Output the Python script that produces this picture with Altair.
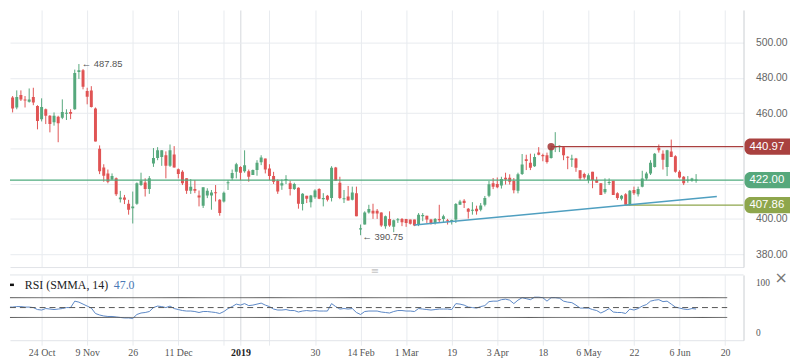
import altair as alt
import pandas as pd

# ---------------- data ----------------
opens = [473.5, 462.6, 464.7, 468.8, 463.2, 470.3, 467.8, 466.5, 469.1, 464.1,
         456.6, 462.2, 458.5, 454.8, 457.9, 457.4, 459.8, 460.7, 462.2, 483.4,
         484.3, 472.5, 472.9, 462.6, 439.8, 429.1, 425.8, 422.4, 423.0, 411.2,
         412.1, 408.6, 406.0, 408.6, 419.2, 420.7, 417.0, 431.4, 434.6, 435.1,
         436.1, 430.1, 436.6, 428.2, 426.7, 423.0, 416.0, 417.0, 413.3, 407.5,
         413.3, 413.3, 415.0, 410.8, 409.9, 420.4, 423.0, 426.7, 429.5, 427.1,
         427.1, 424.9, 427.7, 432.1, 434.2, 428.6, 424.3, 421.7, 418.9, 422.2,
         420.2, 417.0, 417.7, 408.4, 413.1, 409.5, 412.3, 417.0, 411.2, 413.1,
         411.8, 429.2, 420.5, 411.2, 412.7, 410.8, 414.6, 394.2, 396.8, 403.7,
         404.6, 404.6, 403.7, 395.9, 400.0, 395.5, 399.4, 400.0, 400.0, 399.6,
         399.6, 396.8, 401.8, 401.8, 399.6, 397.7, 400.0, 400.0, 399.2, 398.9,
         399.6, 408.0, 410.3, 405.7, 404.7, 405.8, 405.2, 408.0, 413.1, 420.2,
         419.8, 419.0, 423.4, 423.3, 421.5, 416.0, 425.5, 433.8, 431.9, 429.9,
         437.6, 436.1, 436.1, 434.6, 440.7, 441.0, 440.7, 435.1, 433.6, 434.2,
         427.6, 425.5, 422.0, 426.7, 422.0, 420.2, 415.1, 420.5, 421.6, 414.6,
         411.4, 414.0, 408.0, 416.4, 414.0, 418.3, 422.9, 425.8, 429.5, 440.4,
         437.0, 429.5, 438.3, 435.5, 426.7, 423.9, 421.9, 421.7, 422.0]
highs = [474.5, 467.9, 468.2, 469.7, 472.9, 472.9, 469.7, 474.0, 474.4, 464.5,
         468.4, 462.6, 458.9, 460.4, 458.5, 467.8, 462.2, 462.2, 484.7, 487.85,
         485.0, 474.4, 475.3, 463.2, 441.7, 431.0, 428.0, 425.8, 423.5, 415.9,
         413.6, 410.8, 415.5, 420.7, 426.2, 423.0, 424.3, 440.2, 440.7, 438.9,
         438.3, 442.2, 441.3, 428.6, 427.6, 423.0, 422.6, 422.0, 416.1, 417.9,
         417.4, 416.4, 419.2, 411.2, 415.5, 422.0, 428.0, 431.8, 429.9, 438.9,
         428.0, 428.0, 433.3, 436.1, 434.2, 431.0, 426.7, 422.4, 422.4, 424.8,
         421.7, 420.5, 417.9, 414.6, 413.1, 413.6, 416.8, 417.4, 414.6, 413.6,
         429.9, 429.5, 423.9, 416.4, 418.7, 418.3, 418.3, 396.8, 404.3, 408.0,
         408.6, 405.6, 403.7, 401.9, 404.3, 399.6, 400.5, 400.5, 400.0, 399.6,
         399.6, 403.3, 403.3, 401.8, 400.0, 400.5, 408.0, 402.4, 400.0, 399.6,
         409.0, 410.8, 411.2, 406.2, 409.5, 407.5, 409.0, 413.0, 421.5, 423.2,
         423.5, 423.9, 426.2, 425.3, 423.2, 426.2, 436.8, 436.4, 437.0, 437.0,
         440.7, 437.0, 437.6, 441.7, 449.2, 441.7, 441.3, 435.5, 436.4, 434.6,
         427.6, 426.2, 425.8, 426.7, 423.9, 420.2, 423.0, 423.0, 421.6, 415.1,
         413.6, 414.6, 416.4, 418.3, 418.3, 427.3, 426.7, 433.3, 437.4, 442.2,
         438.9, 439.2, 445.0, 436.1, 427.6, 424.3, 424.3, 423.3, 425.4]
lows = [467.5, 458.5, 464.1, 460.4, 462.2, 466.9, 463.2, 466.0, 464.5, 450.8,
        455.3, 453.8, 449.1, 452.9, 443.5, 456.6, 456.1, 456.6, 461.9, 479.4,
        473.5, 465.0, 463.2, 443.9, 425.4, 421.1, 420.2, 422.0, 413.0, 409.3,
        408.4, 402.4, 397.4, 408.0, 418.7, 412.7, 414.2, 429.5, 433.3, 430.1,
        423.0, 429.5, 429.1, 423.0, 419.2, 414.2, 414.2, 414.6, 407.1, 406.2,
        411.8, 405.2, 409.9, 401.8, 409.3, 416.4, 422.0, 423.0, 422.0, 426.2,
        421.1, 424.9, 424.5, 430.5, 425.8, 422.0, 419.8, 414.2, 416.5, 419.8,
        413.3, 416.4, 405.8, 404.8, 409.0, 406.5, 411.4, 411.2, 407.1, 409.9,
        409.9, 421.7, 411.2, 409.0, 410.5, 410.5, 401.5, 390.75, 396.8, 403.0,
        400.0, 400.0, 395.5, 394.4, 395.5, 392.5, 397.7, 395.9, 395.5, 396.8,
        395.9, 395.9, 398.7, 397.7, 396.8, 396.8, 398.1, 398.1, 396.8, 396.8,
        397.7, 408.0, 406.2, 400.2, 402.4, 402.4, 404.3, 407.1, 412.3, 416.9,
        417.4, 417.2, 419.5, 419.5, 414.5, 414.5, 424.9, 427.7, 427.7, 429.5,
        436.1, 432.7, 431.4, 434.2, 437.9, 437.9, 433.3, 428.2, 429.5, 426.7,
        422.0, 422.4, 420.2, 417.4, 420.5, 413.6, 414.2, 419.2, 413.6, 410.8,
        410.5, 407.5, 407.4, 413.6, 412.7, 417.9, 422.0, 424.9, 429.1, 437.6,
        428.0, 424.3, 435.1, 426.2, 423.0, 419.2, 420.5, 421.1, 420.5]
closes = [468.8, 462.9, 465.4, 462.6, 469.1, 467.8, 467.1, 467.8, 466.0, 455.5,
          463.5, 458.5, 453.8, 458.5, 454.2, 460.7, 460.0, 459.6, 482.8, 484.3,
          475.0, 469.3, 463.5, 443.9, 427.1, 424.5, 421.1, 424.3, 414.0, 412.1,
          410.8, 405.2, 407.1, 420.2, 421.7, 417.0, 423.0, 434.6, 438.9, 438.9,
          430.1, 438.9, 429.1, 425.4, 420.2, 416.0, 418.3, 415.9, 412.1, 417.9,
          415.9, 415.0, 414.6, 403.3, 414.9, 420.6, 426.1, 431.0, 426.2, 430.5,
          423.9, 427.7, 431.9, 434.8, 428.0, 424.3, 421.1, 415.5, 420.2, 422.4,
          417.0, 419.8, 408.6, 414.2, 411.4, 413.3, 416.1, 411.4, 411.8, 410.8,
          429.0, 421.7, 411.8, 411.6, 410.5, 415.0, 401.5, 394.5, 403.7, 405.6,
          403.0, 403.0, 396.2, 401.5, 396.2, 399.2, 399.6, 398.1, 397.7, 397.2,
          396.2, 402.4, 401.9, 399.6, 397.7, 400.0, 399.2, 401.5, 398.7, 399.2,
          408.4, 409.9, 409.0, 404.0, 405.2, 404.3, 407.6, 411.8, 419.7, 418.3,
          418.0, 422.7, 422.3, 421.1, 416.2, 425.3, 430.9, 432.9, 429.0, 435.1,
          436.4, 435.7, 432.3, 440.2, 441.0, 441.3, 436.1, 434.8, 434.2, 429.0,
          423.0, 423.5, 424.8, 422.0, 420.5, 413.6, 417.0, 420.9, 413.6, 411.8,
          413.1, 408.0, 415.9, 414.6, 417.0, 422.9, 425.8, 431.9, 437.0, 438.9,
          433.6, 438.9, 435.1, 426.7, 423.5, 420.2, 422.0, 422.9, 422.0]
rsi_vals = [50, 50, 51, 51, 52, 52, 51, 51, 50, 46,
            45, 48, 47, 46, 47, 48, 50, 50, 63, 61,
            57, 53, 49, 38, 35, 33, 32, 32, 31, 30,
            29, 29, 28, 36, 39, 40, 42, 50, 53, 52,
            50, 53, 48, 46, 44, 43, 43, 42, 40, 42,
            42, 41, 40, 38, 42, 48, 52, 57, 55, 58,
            54, 55, 57, 59, 55, 52, 47, 45, 45, 46,
            44, 44, 41, 43, 44, 43, 44, 43, 43, 43,
            58, 52, 47, 48, 47, 48, 40, 36, 42, 43,
            43, 43, 41, 40, 39, 42, 44, 44, 43, 43,
            42, 48, 47, 46, 45, 46, 47, 47, 47, 46,
            58, 57, 55, 51, 50, 49, 52, 54, 62, 63,
            63, 66, 67, 65, 58, 65, 70, 68, 66, 71,
            71, 70, 63, 70, 70, 69, 63, 61, 60, 55,
            49, 49, 49, 46, 44, 39, 43, 48, 41, 40,
            40, 38, 47, 45, 48, 53, 56, 63, 65, 66,
            62, 63, 57, 51, 49, 47, 46, 48, 47]

tick_idx = [10, 21, 32, 43, 54, 58, 65, 76, 87, 98, 109, 120, 131, 142, 153, 164, 175]
tick_lab = ["24 Oct", "9 Nov", "26", "11 Dec", "", "2019", "", "30", "14 Feb",
            "1 Mar", "19", "3 Apr", "18", "6 May", "22", "6 Jun", "20"]
year_tick = 58
price_ticks = [380, 400, 420, 440, 460, 480, 500]
hidden_price_labels = [420, 440]      # covered by the value tags
rsi_ticks = [0, 100]
rsi_bands = [70, 50, 30]
rsi_band_style = ["solid", "dash", "solid"]
rsi_band_end = 175.5

level_vals = [440.97, 422.00, 407.86]
level_cols = ["#a9413f", "#56a87c", "#8ea64c"]
res_start = 133           # resistance line start (candle index)
sup_start = 151           # support line start
trend_i = [100, 173]
trend_p = [396.5, 412.7]
ann_i = [19, 87]
ann_p = [487.85, 390.75]

# ---------------- layout constants ----------------
XMIN, XMAX = 2.363, 179.45
YMIN, YMAX = 372.69, 518.51
RMIN, RMAX = -16, 116
W, H1, H2 = 742, 260, 66
GREEN, RED = "#56a87c", "#e05454"

n = len(closes)
candles = pd.DataFrame({"i": list(range(n)), "o": opens, "h": highs, "l": lows, "c": closes})
rsi_df = pd.DataFrame({"i": list(range(n)), "rsi": rsi_vals})

xscale = alt.Scale(domain=[XMIN, XMAX], nice=False, zero=False)
yscale = alt.Scale(domain=[YMIN, YMAX], nice=False, zero=False)
rscale = alt.Scale(domain=[RMIN, RMAX], nice=False, zero=False)

grid_col = {"condition": {"test": f"datum.value === {year_tick}", "value": "#d4d8dd"}, "value": "#e8ebef"}
lab_expr = ("[" + ",".join(f"'{s}'" for s in tick_lab) + "][indexof([" +
            ",".join(str(v) for v in tick_idx) + "], datum.value)]")
price_lab_expr = ("indexof([" + ",".join(str(v) for v in hidden_price_labels) +
                  "], datum.value) >= 0 ? '' : format(datum.value, '.2f')")

x_axis_p = alt.Axis(values=tick_idx, labels=False, ticks=False, domain=True,
                    domainColor="#e1e4e8", grid=True, gridColor=grid_col, title=None)
y_axis_p = alt.Axis(orient="right", values=price_ticks, labelExpr=price_lab_expr, grid=True,
                    gridColor="#e8ebef", ticks=False, domain=True, domainColor="#c9cdd1",
                    labelPadding=12, labelFont="Liberation Sans", labelFontSize=10.5,
                    labelColor="#666666", title=None)
x_axis_r = alt.Axis(values=tick_idx, labelExpr=lab_expr, grid=True, gridColor=grid_col,
                    ticks=True, tickColor="#e8ebef", tickSize=5, domain=True,
                    domainColor="#e1e4e8", labelFont="Liberation Serif", labelFontSize=10,
                    labelColor={"condition": {"test": f"datum.value === {year_tick}", "value": "#222222"}, "value": "#555555"},
                    labelFontWeight={"condition": {"test": f"datum.value === {year_tick}", "value": "bold"}, "value": "normal"},
                    labelPadding=2, labelFlush=False, labelOverlap=False, labelAngle=0, title=None)
y_axis_r = alt.Axis(orient="right", values=rsi_ticks, grid=False, ticks=False, domain=True,
                    domainColor="#c9cdd1", labelPadding=12, labelFont="Liberation Serif",
                    labelFontSize=9.5, labelColor="#555555", title=None)

X = lambda f: alt.X(f, scale=xscale, axis=x_axis_p)
Y = lambda f: alt.Y(f, scale=yscale, axis=y_axis_p)

# ---------------- price panel ----------------
cbase = alt.Chart(candles).transform_calculate(
    dir="datum.c >= datum.o ? 'up' : 'down'",
    bt="max(datum.o, datum.c)",
    bb="min(datum.o, datum.c)",
).transform_calculate(
    bt2="datum.bt - datum.bb < 0.6 ? (datum.bt + datum.bb) / 2 + 0.3 : datum.bt",
    bb2="datum.bt - datum.bb < 0.6 ? (datum.bt + datum.bb) / 2 - 0.3 : datum.bb",
)
ccolor = alt.Color("dir:N", scale=alt.Scale(domain=["up", "down"], range=[GREEN, RED]), legend=None)
wicks = cbase.mark_rule(strokeWidth=1, clip=True).encode(x=X("i:Q"), y=Y("l:Q"), y2="h:Q", color=ccolor)
bodies = cbase.mark_rule(strokeWidth=3, clip=True).encode(x=X("i:Q"), y=Y("bb2:Q"), y2="bt2:Q", color=ccolor)

cur_line = alt.Chart(pd.DataFrame({"p": [level_vals[1]]})).mark_rule(
    color="#4fab7e", strokeWidth=1.4).encode(y=Y("p:Q"))
res_line = alt.Chart(pd.DataFrame({"x1": [res_start], "x2": [XMAX], "p": [level_vals[0]]})).mark_rule(
    color="#a93f3f", strokeWidth=1.2, clip=True).encode(x=X("x1:Q"), x2="x2:Q", y=Y("p:Q"))
sup_line = alt.Chart(pd.DataFrame({"x1": [sup_start], "x2": [XMAX], "p": [level_vals[2]]})).mark_rule(
    color="#8ea64c", strokeWidth=1.2, clip=True).encode(x=X("x1:Q"), x2="x2:Q", y=Y("p:Q"))
trend = alt.Chart(pd.DataFrame({"i": trend_i, "p": trend_p})).mark_line(
    color="#4f9fc0", strokeWidth=1.5, clip=True).encode(x=X("i:Q"), y=Y("p:Q"))
dot = alt.Chart(pd.DataFrame({"i": [res_start], "p": [level_vals[0]]})).mark_circle(
    size=55, color="#a93f3f", opacity=0.9).encode(x=X("i:Q"), y=Y("p:Q"))

ann_df = pd.DataFrame({"i": ann_i, "p": ann_p,
                       "t": [f"\u2190  {v:.2f}" for v in ann_p]})
ann_hi = alt.Chart(ann_df.iloc[[0]]).mark_text(align="left", baseline="middle", dx=3,
    fontSize=9.5, font="Liberation Sans", color="#555555").encode(x=X("i:Q"), y=Y("p:Q"), text="t:N")
ann_lo = alt.Chart(ann_df.iloc[[1]]).mark_text(align="left", baseline="middle", dx=2, dy=2,
    fontSize=9.5, font="Liberation Sans", color="#555555").encode(x=X("i:Q"), y=Y("p:Q"), text="t:N")

lev_df = pd.DataFrame({"p": level_vals, "col": level_cols, "t": [f"{v:.2f}" for v in level_vals]})
boxes = alt.Chart(lev_df).transform_calculate(lo="datum.p - 4.6", hi="datum.p + 4.6").mark_rect(
    cornerRadiusTopLeft=6, cornerRadiusBottomLeft=6).encode(
    x=alt.value(W + 1), x2=alt.value(W + 47), y=Y("lo:Q"), y2="hi:Q",
    color=alt.Color("col:N", scale=None))
box_txt = alt.Chart(lev_df).mark_text(align="left", baseline="middle", color="white",
    fontSize=11.5, font="Liberation Sans").encode(x=alt.value(W + 6), y=Y("p:Q"), text="t:N")

price = alt.layer(wicks, bodies, cur_line, res_line, sup_line, trend, dot,
                  ann_hi, ann_lo, boxes, box_txt).properties(width=W, height=H1)

# ---------------- RSI panel ----------------
XR = lambda f: alt.X(f, scale=xscale, axis=x_axis_r)
YR = lambda f: alt.Y(f, scale=rscale, axis=y_axis_r)

rsi_line = alt.Chart(rsi_df).mark_line(color="#5b87c5", strokeWidth=1, clip=True).encode(
    x=XR("i:Q"), y=YR("rsi:Q"))
band_df = pd.DataFrame({"v": rsi_bands, "s": rsi_band_style,
                        "x1": [XMIN] * 3, "x2": [rsi_band_end] * 3})
bands = alt.Chart(band_df).mark_rule(color="#555555", strokeWidth=1).encode(
    x=XR("x1:Q"), x2="x2:Q", y=YR("v:Q"),
    strokeDash=alt.StrokeDash("s:N", scale=alt.Scale(domain=["solid", "dash"], range=[[1, 0], [6, 4]]), legend=None))
top_border = alt.Chart(pd.DataFrame({"v": [RMAX]})).mark_rule(color="#e1e4e8").encode(y=YR("v:Q"))

title_df = pd.DataFrame({"t": ["RSI (SMMA, 14)"], "val": [f"{rsi_vals[-1]:.1f}"]})
dash_icon = alt.Chart(title_df).mark_rule(color="#111111", strokeWidth=2.5).encode(
    x=alt.value(0), x2=alt.value(4), y=alt.value(10))
rsi_title = alt.Chart(title_df).mark_text(align="left", baseline="middle", fontSize=12,
    font="Liberation Serif", color="#222222").encode(x=alt.value(15), y=alt.value(10), text="t:N")
rsi_value = alt.Chart(title_df).mark_text(align="left", baseline="middle", fontSize=12,
    font="Liberation Serif", color="#4a78b5").encode(x=alt.value(105), y=alt.value(10), text="val:N")
close_x = alt.Chart(pd.DataFrame({"t": ["\u00d7"]})).mark_text(align="center", baseline="middle",
    fontSize=16, font="DejaVu Sans", color="#777777").encode(x=alt.value(780), y=alt.value(3), text="t:N")
handle = alt.Chart(pd.DataFrame({"t": ["\u2261"]})).mark_text(align="center", baseline="middle",
    fontSize=10, font="DejaVu Sans", color="#c4c4c4").encode(x=alt.value(369), y=alt.value(-4), text="t:N")

rsi = alt.layer(rsi_line, bands, top_border, dash_icon, rsi_title, rsi_value, close_x, handle).properties(
    width=W, height=H2)

chart = alt.vconcat(price, rsi, spacing=8, bounds="flush").properties(
    padding=0, background="white").configure_view(stroke=None)

chart.save("out.html", embed_options={"renderer": "svg", "actions": False})
